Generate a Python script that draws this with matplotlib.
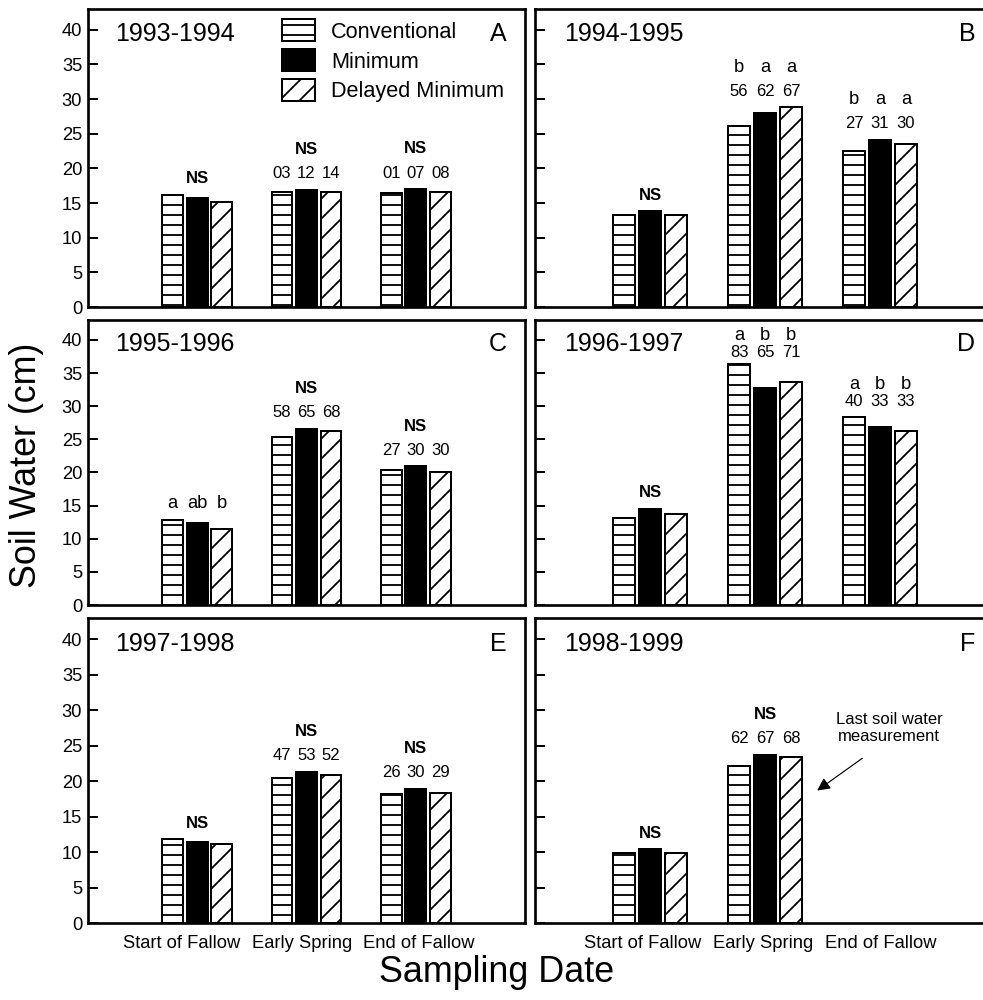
import numpy as np
import matplotlib.pyplot as plt

plt.rcParams['font.family'] = ['Liberation Sans', 'DejaVu Sans']
plt.rcParams['hatch.linewidth'] = 1.1

# sampling dates and tillage treatments
dates = ['Start of Fallow', 'Early Spring', 'End of Fallow']
treatments = ['Conventional', 'Minimum', 'Delayed Minimum']
seasons = ['1993-1994', '1994-1995', '1995-1996', '1996-1997', '1997-1998', '1998-1999']
panel_ids = ['A', 'B', 'C', 'D', 'E', 'F']

# soil water (cm), rows = conventional, minimum, delayed minimum
water_A = [[16.2, 16.6, 16.4], [15.7, 16.9, 17.0], [15.2, 16.6, 16.6]]
water_B = [[13.3, 26.1, 22.5], [13.8, 28.0, 24.1], [13.3, 28.8, 23.5]]
water_C = [[12.8, 25.3, 20.4], [12.3, 26.6, 20.9], [11.4, 26.2, 20.1]]
water_D = [[13.2, 36.4, 28.3], [14.5, 32.7, 26.9], [13.8, 33.7, 26.2]]
water_E = [[11.8, 20.4, 18.2], [11.4, 21.3, 18.9], [11.2, 20.9, 18.3]]
water_F = [[9.8, 22.1, np.nan], [10.4, 23.7, np.nan], [9.8, 23.4, np.nan]]

# precipitation storage numbers above bars
nums_A = [None, ['03', '12', '14'], ['01', '07', '08']]
nums_B = [None, ['56', '62', '67'], ['27', '31', '30']]
nums_C = [None, ['58', '65', '68'], ['27', '30', '30']]
nums_D = [None, ['83', '65', '71'], ['40', '33', '33']]
nums_E = [None, ['47', '53', '52'], ['26', '30', '29']]
nums_F = [None, ['62', '67', '68'], None]

# significance letters
sig_A = ['NS', 'NS', 'NS']
sig_B = ['NS', ['b', 'a', 'a'], ['b', 'a', 'a']]
sig_C = [['a', 'ab', 'b'], 'NS', 'NS']
sig_D = ['NS', ['a', 'b', 'b'], ['a', 'b', 'b']]
sig_E = ['NS', 'NS', 'NS']
sig_F = ['NS', 'NS', None]

water = [water_A, water_B, water_C, water_D, water_E, water_F]
nums = [nums_A, nums_B, nums_C, nums_D, nums_E, nums_F]
sigs = [sig_A, sig_B, sig_C, sig_D, sig_E, sig_F]
line_gap = [14.5, 14.5, 14.5, 10, 14.5, 14.5]

# where the date labels sit under each column of panels
label_pos = [[0.86, 1.96, 3.03], [0.94, 1.98, 3.01]]

W, H = 983, 1000
fig = plt.figure(figsize=(W / 120, H / 120), dpi=120)

lefts = [88, 535]
widths = [437, 460]
rows = [(9, 307), (320, 605), (618, 923)]

colors = ['white', 'black', 'white']
hatches = ['--', None, '//']
step = 0.225
bw = 0.19

for k in range(6):
    r, c = divmod(k, 2)
    top, bot = rows[r]
    ax = fig.add_axes([lefts[c] / W, 1 - bot / H, widths[c] / W, (bot - top) / H])
    vals = np.array(water[k], dtype=float)
    xc = np.arange(1, 4)
    handles = []
    for i in range(3):
        ok = ~np.isnan(vals[i])
        b = ax.bar(xc[ok] + (i - 1) * step, vals[i][ok], bw, color=colors[i],
                   edgecolor='black', hatch=hatches[i], lw=1.2, label=treatments[i])
        handles.append(b)

    # annotations over each sampling date
    for j in range(3):
        col = vals[:, j]
        if np.all(np.isnan(col)):
            continue
        ymax = np.nanmax(col)
        off = 4 if ymax > 35 else 7
        if nums[k][j] is not None:
            for i in range(3):
                ax.annotate(nums[k][j][i], (xc[j] + (i - 1) * step, ymax),
                            xytext=(0, off), textcoords='offset points',
                            ha='center', va='baseline', fontsize=10)
            off += line_gap[k]
        s = sigs[k][j]
        if s == 'NS':
            ax.annotate('NS', (xc[j], ymax), xytext=(0, off), textcoords='offset points',
                        ha='center', va='baseline', fontsize=10, fontweight='bold')
        elif s is not None:
            for i in range(3):
                ax.annotate(s[i], (xc[j] + (i - 1) * step, ymax),
                            xytext=(0, off), textcoords='offset points',
                            ha='center', va='baseline', fontsize=11)

    ax.set_xlim(0, 4)
    ax.set_ylim(0, 43)
    ax.set_yticks(range(0, 41, 5))
    ax.set_xticks(label_pos[c])
    ax.set_xticklabels(dates)
    ax.tick_params(axis='y', direction='in', length=6, width=1.2, labelsize=11, pad=3.5,
                   labelleft=(c == 0))
    ax.tick_params(axis='x', length=0, labelsize=11, pad=7, labelbottom=(r == 2))
    for sp in ax.spines.values():
        sp.set_linewidth(1.6)
    if c == 1:
        ax.spines['right'].set_visible(False)

    ax.text(0.25, 39.4, seasons[k], ha='left', va='center', fontsize=15)
    ax.text(3.83, 39.4, panel_ids[k], ha='right', va='center', fontsize=15)

    if k == 0:
        ax.legend(handles=handles, loc='upper left', bbox_to_anchor=(0.444, 0.965),
                  frameon=False, fontsize=13, handlelength=1.5, handleheight=1.18,
                  labelspacing=0.3, handletextpad=0.75, borderpad=0, borderaxespad=0)
    if k == 5:
        ax.annotate('', xy=(2.43, 18.4), xytext=(2.87, 23.5),
                    arrowprops=dict(arrowstyle='-|>', color='black', lw=0.7,
                                    mutation_scale=16))
        ax.text(3.08, 27.5, 'Last soil water\nmeasurement', ha='center', va='center',
                fontsize=10, linespacing=1.15)

fig.text(27 / W, 1 - 465 / H, 'Soil Water (cm)', rotation=90, ha='center', va='center',
         fontsize=21.5)
fig.text(497 / W, 1 - 972 / H, 'Sampling Date', ha='center', va='center', fontsize=21.5)

fig.savefig('out.png', dpi=120)
